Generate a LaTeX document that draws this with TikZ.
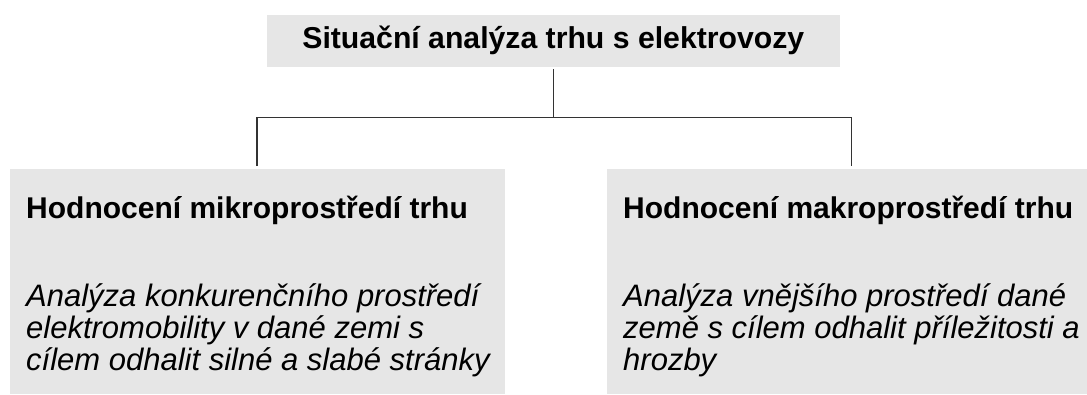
\documentclass[tikz,border=0pt]{standalone}
\usepackage{fontspec}
\setmainfont{Liberation Sans}
\definecolor{boxgray}{HTML}{E6E6E6}
\definecolor{linegray}{HTML}{333333}
\tikzset{
  panel/.style={fill=boxgray, draw=none, inner sep=0pt, rectangle},
  conn/.style={draw=linegray, line width=1.3pt},
  titletext/.style={font=\fontsize{30.2}{34}\selectfont\bfseries, inner sep=0pt, anchor=base},
  headtext/.style={font=\fontsize{30}{34}\selectfont\bfseries, inner sep=0pt, anchor=base west},
  desctext/.style={font=\fontsize{31}{32}\selectfont\itshape, inner sep=0pt, anchor=base west, align=left},
}
\begin{document}
\begin{tikzpicture}[x=1pt,y=-1pt]
\useasboundingbox (0,0) rectangle (1087,394);
% boxes
\node[panel, minimum width=573.3pt, minimum height=51.7pt] (top) at (553.3,40.85) {};
\node[panel, minimum width=495pt, minimum height=225pt] (lbox) at (257.5,281.5) {};
\node[panel, minimum width=480pt, minimum height=225pt] (rbox) at (847,281.5) {};
% texts
\node[titletext] (ttop) at (553.3,48.3) {Situační analýza trhu s elektrovozy};
\node[headtext] (hl) at (26,218.3) {Hodnocení mikroprostředí trhu};
\node[headtext] (hr) at (623,218.3) {Hodnocení makroprostředí trhu};
\node[desctext] (dl) at (26,370) {Analýza konkurenčního prostředí\\elektromobility v dané zemi s\\cílem odhalit silné a slabé stránky};
\node[desctext] (dr) at (623,370) {Analýza vnějšího prostředí dané\\země s cílem odhalit příležitosti a\\hrozby};
% connectors
\coordinate (j) at (553.3,117.5);
\coordinate (jl) at (257,117.5);
\coordinate (jr) at (851.7,117.5);
\coordinate (el) at (257,166);
\coordinate (er) at (851.7,166);
\draw[conn] ([yshift=-2.5pt]top.south) -- (j);
\draw[conn] (el) -- (jl) -- (jr) -- (er);
\end{tikzpicture}
\end{document}
